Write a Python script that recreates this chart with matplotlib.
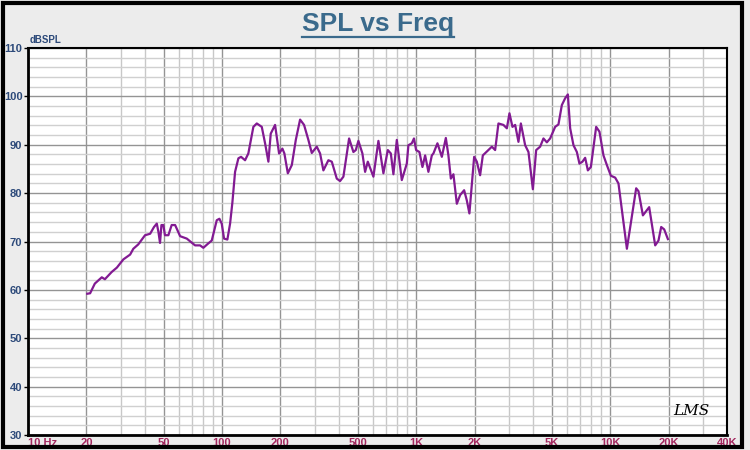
import numpy as np
import matplotlib
matplotlib.use("Agg")
import matplotlib.pyplot as plt
from matplotlib.lines import Line2D
from matplotlib.patches import Rectangle
from matplotlib.ticker import FixedLocator, NullFormatter

plt.rcParams['font.family'] = ['Liberation Sans', 'DejaVu Sans']

# ===== data =====
freq = [20.2, 20.9, 22.1, 24.0, 24.9, 27.0, 28.7, 31.0, 33.6, 34.9, 37.0, 40.1,
        42.6, 44.6, 46.1, 47.0, 47.9, 48.7, 49.8, 50.8, 52.9, 55.0, 57.3, 60.8,
        65.8, 72.6, 77.0, 80.1, 84.9, 88.5, 93.9, 96.9, 99.6, 102.4, 106.5, 110,
        113, 116.7, 121.4, 125.3, 131.4, 136.6, 145, 151, 160.2, 166.6, 173.3,
        178.2, 187.6, 196.7, 204.6, 209.5, 218.2, 228.8, 239.9, 252.4, 264.6,
        278.5, 290, 307.7, 320, 332.8, 353.1, 367.7, 390.1, 405.7, 422, 451.5,
        475.2, 488.9, 504.2, 528.7, 545.9, 563.6, 602.5, 639.4, 678.4, 714.8,
        740.7, 763.9, 795.3, 843.9, 895.5, 912.6, 950.2, 975, 1000, 1040, 1078,
        1113, 1157, 1205, 1228, 1288, 1357, 1423, 1467, 1510, 1557, 1621, 1686,
        1768, 1825, 1882, 1991, 2055, 2137, 2207, 2359, 2457, 2554, 2656, 2818,
        2935, 3027, 3137, 3239, 3368, 3466, 3647, 3793, 3996, 4156, 4357, 4531,
        4718, 4906, 5206, 5414, 5636, 5861, 6053, 6221, 6470, 6735, 6946, 7198,
        7432, 7675, 7954, 8469, 8806, 9236, 9616, 10083, 10612, 11035, 12195,
        13615, 13993, 14746, 15887, 17061, 17743, 18320, 18985, 19835]
spl = [59.2, 59.3, 61.3, 62.6, 62.2, 63.7, 64.6, 66.3, 67.3, 68.5, 69.4, 71.3,
       71.6, 73.0, 73.7, 72.0, 69.7, 73.4, 73.4, 71.3, 71.3, 73.4, 73.4, 71.1,
       70.6, 69.2, 69.2, 68.7, 69.6, 70.2, 74.4, 74.7, 73.7, 70.6, 70.4, 73.7,
       78.0, 84.4, 87.2, 87.5, 86.8, 88.2, 93.7, 94.4, 93.7, 90.3, 86.5,
       92.3, 94.1, 88.2, 89.2, 88.2, 84.1, 85.8, 91.0, 95.2, 94.1,
       91.0, 88.3, 89.6, 88.2, 84.7, 86.8, 86.5, 83.0, 82.5, 83.4, 91.3,
       88.5, 88.9, 90.8, 88.2, 84.4, 86.5, 83.4, 90.8, 84.1, 88.9,
       88.2, 83.9, 91.0, 82.7, 86.1, 89.9, 90.3, 91.3, 88.9, 88.5, 85.4,
       87.8, 84.4, 87.8, 88.2, 90.3, 87.5, 91.4, 87.8, 83.0, 83.9, 77.8, 79.6,
       80.6, 78.5, 75.8, 87.5, 86.5, 83.7, 87.8, 88.9, 89.6, 88.9, 94.4, 94.1,
       93.4, 96.5, 93.7, 94.1, 90.6, 94.4, 89.9, 88.5, 80.8, 88.9, 89.6, 91.3,
       90.5, 91.3, 93.7, 94.2, 98.2, 99.6, 100.4, 93.4, 89.9, 88.5, 86.1, 86.5,
       87.3, 84.7, 85.4, 93.7, 92.7, 87.8, 85.8, 83.6, 83.2, 82.0, 68.5,
       81.0, 80.4, 75.4, 77.1, 69.2, 70.2, 73.0, 72.5, 70.5]

x_ticks = [10, 20, 50, 100, 200, 500, 1000, 2000, 5000, 10000, 20000, 40000]
x_labels = ['10 Hz', '20', '50', '100', '200', '500', '1K', '2K', '5K', '10K', '20K', '40K']
y_ticks = [30, 40, 50, 60, 70, 80, 90, 100, 110]

# ===== figure =====
bg = '#ececec'
fig = plt.figure(figsize=(7.5, 4.5), dpi=100, facecolor=bg)
ax = fig.add_axes([28 / 750, 15 / 450, 699 / 750, 387 / 450], facecolor='white')

# outer black frame
fig.patches.append(Rectangle((0.004, 0.006), 0.985, 0.988, transform=fig.transFigure,
                             fill=False, edgecolor='black', linewidth=3))

ax.set_xscale('log')
ax.set_xlim(10, 40000)
ax.set_ylim(30, 110)

# grid
minor_x = [m * 10 ** e for e in range(1, 5) for m in range(1, 10) if m * 10 ** e <= 40000]
for f in minor_x:
    major = f in x_ticks
    ax.axvline(f, color='#949494' if major else '#c8c8c8', lw=1.0, zorder=1)
for v in np.arange(30, 111, 2):
    major = v % 10 == 0
    ax.axhline(v, color='#949494' if major else '#d0d0d0', lw=1.0, zorder=1)

ax.plot(freq, spl, color='#821a92', lw=1.6, zorder=3)

ax.xaxis.set_major_locator(FixedLocator(x_ticks))
ax.xaxis.set_minor_formatter(NullFormatter())
ax.set_xticks(x_ticks)
ax.set_xticklabels(x_labels)
ax.set_yticks(y_ticks)
ax.tick_params(axis='x', which='both', length=0, pad=2, labelsize=8, labelcolor='#a3285f')
ax.tick_params(axis='y', length=3, width=1, pad=1, labelsize=8, labelcolor='#2d4a7a')
for lab in ax.get_xticklabels():
    lab.set_fontweight('bold')
for lab in ax.get_yticklabels():
    lab.set_fontweight('bold')
ax.get_xticklabels()[0].set_horizontalalignment('left')

for s in ax.spines.values():
    s.set_color('black')
    s.set_linewidth(1.5)
ax.spines['left'].set_linewidth(2)
ax.spines['bottom'].set_linewidth(2)

fig.text(30 / 750, 1 - 40 / 450, 'dBSPL', fontsize=7, color='#2d4a7a', fontweight='bold',
         va='center', ha='left')

# title with underline
t = fig.text(0.504, 1 - 24 / 450, 'SPL vs Freq', fontsize=19, fontweight='bold',
             color='#3a6a8c', ha='center', va='center')
fig.canvas.draw()
bb = t.get_window_extent().transformed(fig.transFigure.inverted())
fig.add_artist(Line2D([bb.x0, bb.x1], [bb.y0 - 0.002, bb.y0 - 0.002],
                      transform=fig.transFigure, color='#3a6a8c', lw=1.6))

# LMS mark
ax.text(0.975, 0.045, 'LMS', transform=ax.transAxes, fontsize=11, fontstyle='italic',
        family='DejaVu Serif', color='black', ha='right', va='bottom', zorder=4)

fig.savefig('out.png', dpi=100, facecolor=bg)
